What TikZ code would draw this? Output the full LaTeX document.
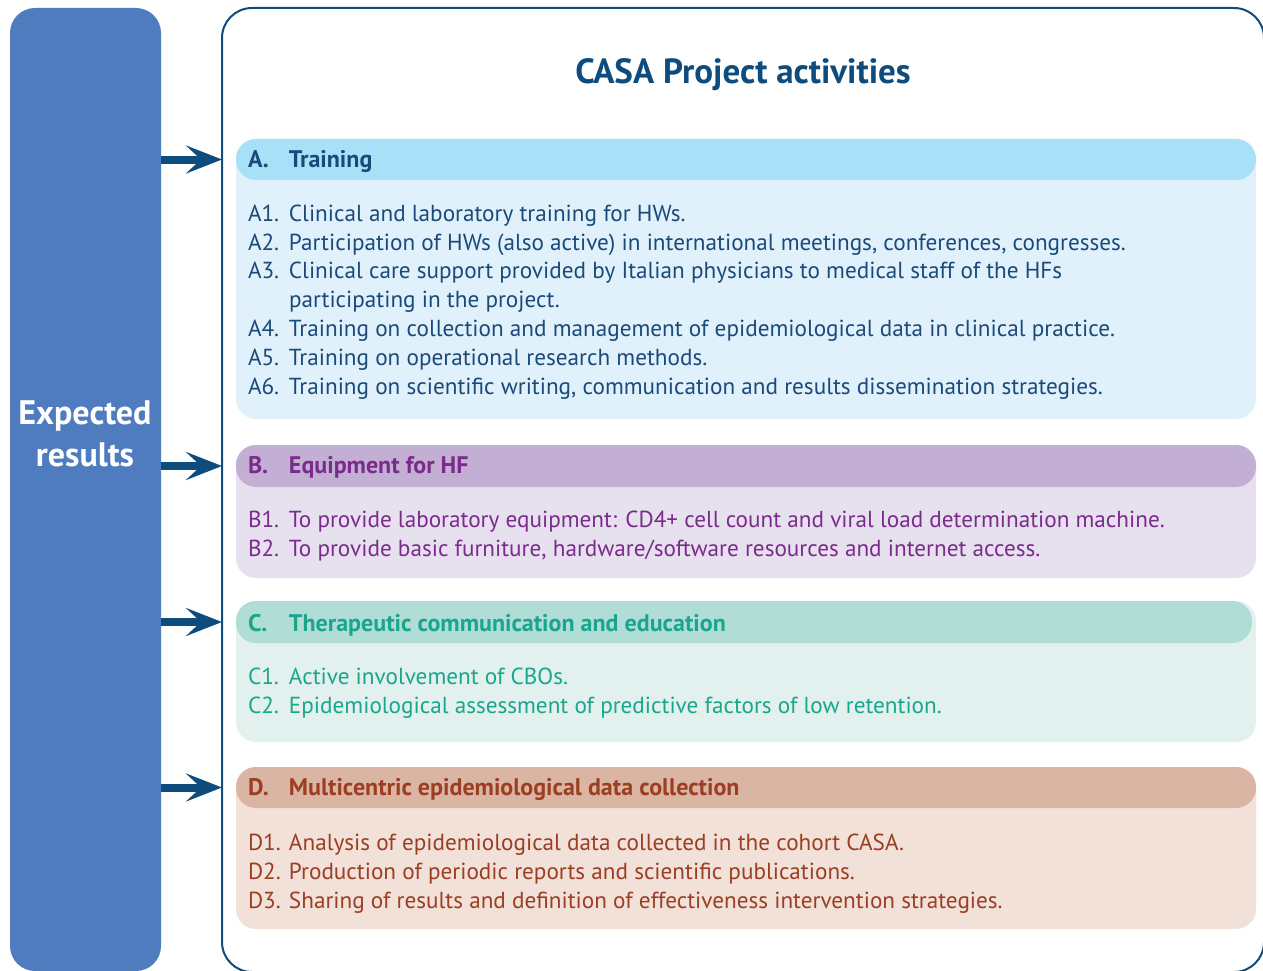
\documentclass[tikz,border=0pt]{standalone}
\usepackage{fontspec}
\setmainfont{PT Sans}
\usetikzlibrary{positioning,arrows.meta}

\definecolor{resblue}{HTML}{4F7CBF}
\definecolor{frameblue}{HTML}{0E4C7E}
\definecolor{txtA}{HTML}{1A4A7A}
\definecolor{headA}{HTML}{A8E0F8}
\definecolor{bodyA}{HTML}{E0F1FB}
\definecolor{txtB}{HTML}{7A2B8B}
\definecolor{headB}{HTML}{C3AFD4}
\definecolor{bodyB}{HTML}{E7E0EF}
\definecolor{txtC}{HTML}{19A68C}
\definecolor{headC}{HTML}{B0DED7}
\definecolor{bodyC}{HTML}{E2F1ED}
\definecolor{txtD}{HTML}{9B3E22}
\definecolor{headD}{HTML}{DBB5A3}
\definecolor{bodyD}{HTML}{F2E1D9}

\begin{document}
\begin{tikzpicture}[x=1pt,y=-1pt]
        \tikzstyle{every node}=[inner sep=0pt,outer sep=0pt]

        \tikzstyle{secbody}=[rounded corners=20pt,anchor=north west,minimum width=1020pt]
        \tikzstyle{sechead}=[rounded corners=20pt,anchor=north west,minimum width=1020pt,minimum height=41pt]
        \tikzstyle{htext}=[anchor=base west,font=\fontsize{24}{29}\selectfont\bfseries]
        \tikzstyle{item}=[anchor=base west,font=\fontsize{23.2}{29}\selectfont]
        \tikzstyle{link}=[line width=8pt,draw=frameblue,-{Stealth[length=36pt,width=28pt,inset=15pt]}]

        \useasboundingbox (0,0) rectangle (1263,971);
        \clip (0,0) rectangle (1263,971);

        % left column and frame
        \node [fill=resblue,rounded corners=25pt,minimum width=151pt,minimum height=963pt,anchor=north west] (results) at (10,8) {};
        \node [text=white,align=center,font=\fontsize{34}{42}\selectfont\bfseries] (restext) at (85,434) {Expected\\results};
        \node [draw=frameblue,line width=2pt,rounded corners=30pt,minimum width=1042pt,minimum height=964pt,anchor=north west] (frame) at (222,8) {};
        \node [text=frameblue,anchor=base,font=\fontsize{35}{40}\selectfont\bfseries] (title) at (743,84) {CASA Project activities};

        % A
        \node [secbody,fill=bodyA,minimum height=280pt] (bodyA) at (236,139) {};
        \node [sechead,fill=headA] (headA) at (236,139) {};
        \node [htext,text=txtA] (hA) at (248,167) {\makebox[41pt][l]{A.}Training};
        \foreach \lab/\y/\txt in {A1/221/{Clinical and laboratory training for HWs.},
                A2/250/{Participation of HWs (also active) in international meetings, conferences, congresses.},
                A3/278/{Clinical care support provided by Italian physicians to medical staff of the HFs},
                A4/336/{Training on collection and management of epidemiological data in clinical practice.},
                A5/365/{Training on operational research methods.},
                A6/394/{Training on scientific writing, communication and results dissemination strategies.}}
            \node [item,text=txtA] (\lab) at (248,\y) {\makebox[41pt][l]{\lab.}\txt};
        \node [item,text=txtA] (A3b) at (289,307) {participating in the project.};

        % B
        \node [secbody,fill=bodyB,minimum height=133pt] (bodyB) at (236,445) {};
        \node [sechead,fill=headB,minimum height=42pt] (headB) at (236,445) {};
        \node [htext,text=txtB] (hB) at (248,473) {\makebox[41pt][l]{B.}Equipment for HF};
        \foreach \lab/\y/\txt in {B1/527/{To provide laboratory equipment: CD4+ cell count and viral load determination machine.},
                B2/556/{To provide basic furniture, hardware/software resources and internet access.}}
            \node [item,text=txtB] (\lab) at (248,\y) {\makebox[41pt][l]{\lab.}\txt};

        % C
        \node [secbody,fill=bodyC,minimum height=141pt] (bodyC) at (236,601) {};
        \node [sechead,fill=headC,minimum width=1016pt,minimum height=42pt] (headC) at (236,601) {};
        \node [htext,text=txtC] (hC) at (248,631) {\makebox[41pt][l]{C.}Therapeutic communication and education};
        \foreach \lab/\y/\txt in {C1/684/{Active involvement of CBOs.},
                C2/713/{Epidemiological assessment of predictive factors of low retention.}}
            \node [item,text=txtC] (\lab) at (248,\y) {\makebox[41pt][l]{\lab.}\txt};

        % D
        \node [secbody,fill=bodyD,minimum height=162pt] (bodyD) at (236,767) {};
        \node [sechead,fill=headD] (headD) at (236,767) {};
        \node [htext,text=txtD] (hD) at (248,795) {\makebox[41pt][l]{D.}Multicentric epidemiological data collection};
        \foreach \lab/\y/\txt in {D1/850/{Analysis of epidemiological data collected in the cohort CASA.},
                D2/879/{Production of periodic reports and scientific publications.},
                D3/908/{Sharing of results and definition of effectiveness intervention strategies.}}
            \node [item,text=txtD] (\lab) at (248,\y) {\makebox[41pt][l]{\lab.}\txt};

        % arrows
        \foreach \s in {A,B,C,D}
            \draw [link] (results.east |- head\s.west) -- (frame.west |- head\s.west);

\end{tikzpicture}
\end{document}
